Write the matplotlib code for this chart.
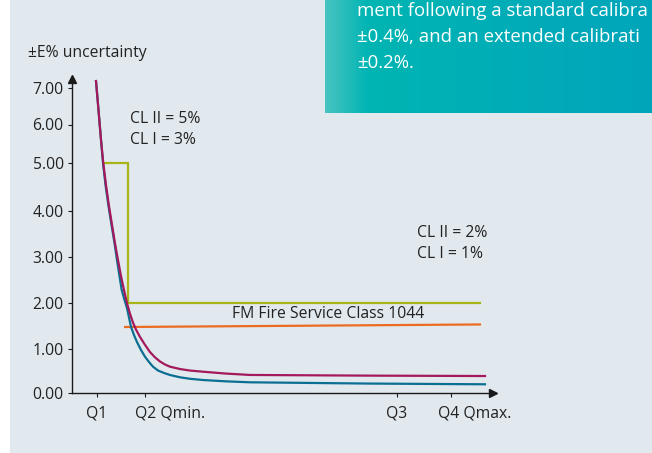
import numpy as np
import matplotlib
matplotlib.use("Agg")
import matplotlib.pyplot as plt
from matplotlib.patches import Rectangle
from matplotlib.colors import LinearSegmentedColormap

plt.rcParams['font.family'] = ['Open Sans', 'DejaVu Sans']

# ---------------- data ----------------
q_ticks = [5.9, 17.3, 77.2, 90.0]
q_labels = ["Q1", "Q2 Qmin.", "Q3", "Q4 Qmax."]
y_ticks = [0, 1, 2, 3, 4, 5, 6, 7]
y_ticklabels = ["0.00", "1.00", "2.00", "3.00", "4.00", "5.00", "6.00", "7.00"]

ext_x = [5.70, 6.29, 6.89, 7.43, 8.08, 8.79, 9.50, 10.21, 10.93, 11.64, 12.35,
         13.06, 13.78, 14.49, 15.20, 16.15, 17.34, 18.53, 19.71, 20.90, 22.09,
         23.28, 25.65, 28.03, 31.12, 36.34, 42.28, 70.0, 98.1]
ext_y = [7.19, 6.40, 5.60, 5.00, 4.54, 4.10, 3.70, 3.30, 2.93, 2.58, 2.28,
         1.99, 1.76, 1.57, 1.42, 1.26, 1.09, 0.93, 0.81, 0.716, 0.648,
         0.598, 0.545, 0.51, 0.484, 0.443, 0.41, 0.395, 0.386]

std_x = [5.70, 6.29, 6.89, 7.36, 7.96, 8.67, 9.38, 10.10, 10.69, 11.28, 11.80,
         12.47, 13.06, 13.54, 14.01, 14.73, 15.44, 16.39, 17.34, 18.29, 19.24,
         20.43, 21.85, 23.28, 25.65, 28.03, 31.12, 36.34, 42.28, 70.0, 98.1]
std_y = [7.19, 6.40, 5.60, 5.00, 4.54, 4.10, 3.70, 3.30, 2.93, 2.58, 2.28,
         2.06, 1.885, 1.68, 1.48, 1.30, 1.15, 0.977, 0.825, 0.705, 0.598,
         0.511, 0.455, 0.409, 0.357, 0.323, 0.295, 0.266, 0.243, 0.215, 0.198]

cl_x = [7.6, 13.4, 13.4, 96.9]
cl_y = [5.0, 5.0, 2.0, 2.0]

fm_x = [12.6, 96.9]
fm_y = [1.475, 1.53]

# ------------- piecewise y scale (axis in the original is not uniform) -------------
_sv = np.array([-1, 0, 1, 2, 3, 4, 5, 6, 7, 8], dtype=float)
_sp = np.array([-44, 0, 44, 90.3, 136, 182, 230, 268.5, 305, 341.5])


def fwd(v):
    return np.interp(v, _sv, _sp)


def inv(p):
    return np.interp(p, _sp, _sv)


W, H = 652, 453
fig = plt.figure(figsize=(W / 100, H / 100), dpi=100)
fig.patch.set_facecolor("white")

# grey panel
fig.patches.append(Rectangle((10 / W, 0), 1, 1, transform=fig.transFigure,
                             facecolor="#e2e9ee", edgecolor="none", zorder=-10))

# teal gradient box
gax = fig.add_axes([325 / W, (H - 113) / H, (W - 325) / W, 113 / H])
cmap = LinearSegmentedColormap.from_list(
    "teal", [(0, "#48c3c1"), (0.13, "#00b5b3"), (1, "#00a5bb")])
gax.imshow(np.linspace(0, 1, 256)[None, :], aspect="auto", cmap=cmap,
           extent=[0, 1, 0, 1])
gax.set_axis_off()

fs_box = 13.4
fig.text(357 / W, 1 - 11 / H, "ment following a standard calibra", color="white",
         fontsize=fs_box, va="center", ha="left")
fig.text(357 / W, 1 - 37 / H, "±0.4%, and an extended calibrati", color="white",
         fontsize=fs_box, va="center", ha="left")
fig.text(357 / W, 1 - 63 / H, "±0.2%.", color="white",
         fontsize=fs_box, va="center", ha="left")

# main axes
ax_left, ax_right = 72, 493
ax_bottom, ax_top = 393, 79
ax = fig.add_axes([ax_left / W, (H - ax_bottom) / H, (ax_right - ax_left) / W,
                   (ax_bottom - ax_top) / H])
ax.set_facecolor("none")
ax.set_yscale("function", functions=(fwd, inv))
ax.set_xlim(0, 100)
ax.set_ylim(0, inv(ax_bottom - ax_top))

ax.plot(cl_x, cl_y, color="#a9b418", lw=1.6, solid_joinstyle="miter")
ax.plot(fm_x, fm_y, color="#ea6b21", lw=1.6)
ax.plot(std_x, std_y, color="#0b6e93", lw=1.6)
ax.plot(ext_x, ext_y, color="#a3195b", lw=1.6)

for s in ["top", "right"]:
    ax.spines[s].set_visible(False)
for s in ["left", "bottom"]:
    ax.spines[s].set_color("#1a1a1a")
    ax.spines[s].set_linewidth(1.0)

ax.plot(1, 0, ">", color="#1a1a1a", ms=5.5, transform=ax.transAxes, clip_on=False)
ax.plot(0, 1, "^", color="#1a1a1a", ms=5.5, transform=ax.transAxes, clip_on=False)

fs = 11.3
ax.set_yticks(y_ticks)
ax.set_yticklabels(y_ticklabels)
ax.yaxis.set_minor_locator(matplotlib.ticker.NullLocator())
ax.tick_params(axis="y", length=3, width=0.8, color="#1a1a1a", labelsize=fs,
               labelcolor="#222222", pad=3)
ax.set_xticks(q_ticks)
ax.set_xticklabels([""] * len(q_ticks))
ax.tick_params(axis="x", length=3, width=0.8, color="#1a1a1a")

# x labels: the "Qn" part is centred over its tick
offsets = [0, -7.3, 0, -9.5]
for xv, lab, off in zip(q_ticks, q_labels, offsets):
    ax.annotate(lab, xy=(xv, 0), xycoords=("data", "axes fraction"),
                xytext=(off, -14.5), textcoords="offset points",
                ha="center" if off == 0 else "left", va="center",
                fontsize=fs, color="#222222")

fig.text(28 / W, 1 - 53 / H, "±E% uncertainty", fontsize=fs, color="#222222",
         va="center", ha="left")
fig.text(130 / W, 1 - 119 / H, "CL II = 5%", fontsize=fs, color="#222222",
         va="center", ha="left")
fig.text(130 / W, 1 - 140 / H, "CL I = 3%", fontsize=fs, color="#222222",
         va="center", ha="left")
fig.text(417 / W, 1 - 233 / H, "CL II = 2%", fontsize=fs, color="#222222",
         va="center", ha="left")
fig.text(417 / W, 1 - 254 / H, "CL I = 1%", fontsize=fs, color="#222222",
         va="center", ha="left")
fig.text(232 / W, 1 - 314 / H, "FM Fire Service Class 1044", fontsize=fs,
         color="#222222", va="center", ha="left")

fig.savefig("out.png", dpi=100, facecolor=fig.get_facecolor())
